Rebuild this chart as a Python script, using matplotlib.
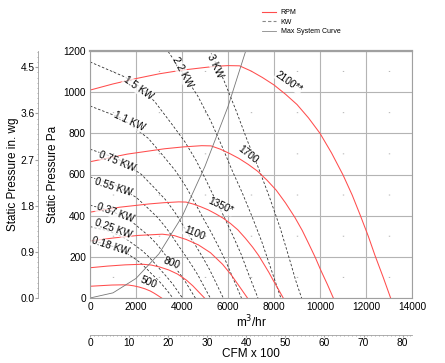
import matplotlib
matplotlib.use("Agg")
import matplotlib.pyplot as plt
from matplotlib.ticker import MultipleLocator
from matplotlib.lines import Line2D

plt.rcParams['font.family'] = ['Liberation Sans', 'DejaVu Sans']

# fan curves (m3/hr, Pa) per rpm
rpm_labels = ['500', '800', '1100', '1350*', '1700', '2100**']
rpm_q = [
    [0, 476, 952, 1429, 1667, 1905, 2143, 2381, 2619, 2795, 2950, 3112],
    [0, 762, 1524, 2286, 2667, 3048, 3429, 3810, 4190, 4472, 4720, 4979],
    [0, 1048, 2095, 3143, 3667, 4190, 4714, 5238, 5762, 6150, 6490, 6846],
    [0, 1286, 2571, 3214, 3857, 4179, 4500, 4821, 5143, 5464, 5786, 6107, 6429,
     6750, 7071, 7329, 7547, 7779, 7965, 8196, 8402],
    [0, 1619, 3238, 4048, 4857, 5262, 5667, 6071, 6476, 6881, 7286, 7690, 8095,
     8500, 8905, 9229, 9504, 9795, 10030, 10321, 10580],
    [0, 1000, 2000, 3000, 4000, 5000, 5500, 6000, 6500, 7000, 7500, 8000, 8500,
     9000, 9500, 10000, 10500, 11000, 11400, 11740, 12100, 12390, 12750, 13070],
]
rpm_p = [
    [57, 60, 63, 64, 63, 59, 53, 45, 34, 23, 12, 0],
    [147, 155, 161, 164, 160, 150, 136, 116, 87, 59, 30, 0],
    [277, 292, 304, 310, 303, 284, 258, 220, 164, 111, 57, 0],
    [417, 441, 457, 463, 467, 466, 456, 443, 428, 409, 388, 362, 331,
     291, 247, 207, 167, 124, 86, 41, 0],
    [662, 699, 725, 734, 740, 739, 723, 702, 678, 649, 616, 573, 524,
     462, 392, 328, 265, 197, 136, 66, 0],
    [1010, 1040, 1066, 1089, 1107, 1120, 1126, 1129, 1128, 1103, 1071, 1035, 990,
     940, 875, 800, 705, 598, 500, 405, 300, 207, 100, 0],
]
rpm_label_pos = [(2565, 78), (3565, 170), (4522, 316), (5696, 447), (6870, 699), (8652, 1049)]
rpm_label_rot = [-22, -20, -22, -25, -38, -35]

# constant power lines
kw_labels = ['0.18 KW', '0.25 KW', '0.37 KW', '0.55 KW', '0.75 KW', '1.1 KW', '1.5 KW', '2.2 KW', '3 KW']
kw_q = [
    [0, 747, 1385, 1731, 2033, 2274, 2490, 2687, 2869, 3058, 3237, 3418, 3604],
    [0, 834, 1545, 1932, 2268, 2539, 2778, 2998, 3201, 3411, 3615, 3814, 4020],
    [0, 950, 1761, 2201, 2585, 2893, 3166, 3418, 3650, 3887, 4120, 4343, 4580],
    [0, 1084, 2009, 2513, 2949, 3302, 3613, 3900, 4164, 4436, 4700, 4957, 5228],
    [0, 1202, 2228, 2785, 3271, 3662, 4007, 4325, 4618, 4920, 5213, 5498, 5795],
    [0, 1367, 2532, 3165, 3716, 4160, 4552, 4914, 5249, 5589, 5922, 6246, 6585],
    [0, 1515, 1978, 2808, 3509, 4119, 4614, 5048, 5448, 5819, 6197, 6566, 6926, 7302],
    [3190, 3988, 4682, 5242, 5735, 6190, 6612, 7041, 7461, 7868, 8297],
    [4422, 5192, 5812, 6360, 6864, 7331, 7809, 8273, 8726, 8941, 9200],
]
kw_p = [
    [279, 261, 232, 207, 185, 162, 139, 116, 97, 75, 52, 27, 0],
    [347, 325, 289, 258, 230, 202, 173, 145, 120, 93, 65, 33, 0],
    [451, 422, 376, 335, 299, 263, 225, 188, 156, 121, 84, 43, 0],
    [588, 550, 489, 437, 390, 342, 293, 245, 203, 157, 110, 56, 0],
    [723, 677, 601, 537, 479, 421, 360, 301, 250, 194, 135, 69, 0],
    [933, 874, 776, 693, 618, 543, 465, 389, 323, 250, 174, 89, 0],
    [1147, 1074, 1043, 955, 852, 760, 668, 572, 478, 397, 307, 214, 107, 0],
    [1232, 1100, 982, 862, 738, 617, 513, 397, 276, 142, 0],
    [1353, 1207, 1060, 908, 758, 630, 488, 339, 169, 86, 0],
]
kw_label_pos = [(870, 252), (1000, 335), (1087, 413), (1000, 539), (1174, 665),
                (1696, 859), (2087, 1019), (4000, 1097), (5435, 1126)]
kw_label_rot = [-18, -20, -20, -18, -22, -25, -35, -62, -65]

sys_q = [0, 1000, 2000, 3000, 4000, 5000, 6000, 6770, 7000]
sys_p = [0, 25, 95, 215, 395, 640, 930, 1200, 1290]

W, H = 445, 363
fig = plt.figure(figsize=(W / 100, H / 100), dpi=100)
ax = fig.add_axes([90 / W, 1 - 298 / H, 322 / W, 247 / H])

red = '#ff4d4d'
lab_box = dict(facecolor='white', edgecolor='none', alpha=0.75, pad=0.3)

for q, p in zip(kw_q, kw_p):
    ax.plot(q, p, color='#333333', lw=0.6, dashes=(3, 2.2))
for q, p in zip(rpm_q, rpm_p):
    ax.plot(q, p, color=red, lw=0.75)
ax.plot(sys_q, sys_p, color='#777777', lw=0.6)

for txt, (x, y), r in zip(kw_labels + rpm_labels, kw_label_pos + rpm_label_pos,
                          kw_label_rot + rpm_label_rot):
    ax.text(x, y, txt, rotation=r, fontsize=7.3, ha='center', va='center',
            rotation_mode='anchor', bbox=lab_box, zorder=5)

ax.set_xlim(0, 14000)
ax.set_ylim(0, 1200)
ax.xaxis.set_major_locator(MultipleLocator(2000))
ax.xaxis.set_minor_locator(MultipleLocator(1000))
ax.yaxis.set_major_locator(MultipleLocator(200))
ax.grid(True, which='major', color='#b4b4b4', lw=0.8)
# faint dots in the middle of each grid cell
ax.grid(True, which='minor', axis='x', color='#b4b4b4', lw=1,
        linestyle=(14.83, (0.7, 28.96)))
ax.set_axisbelow(True)
ax.tick_params(labelsize=7.3, length=0, pad=3)
ax.tick_params(which='minor', length=0)
for s in ax.spines.values():
    s.set_color('#a0a0a0')
    s.set_linewidth(0.8)
ax.spines['top'].set_linewidth(1.6)
ax.set_xlabel('m$^3$/hr', fontsize=8.5, labelpad=1)
ax.set_ylabel('Static Pressure Pa', fontsize=8.5, labelpad=3)

# legend
handles = [Line2D([], [], color=red, lw=0.8),
           Line2D([], [], color='#888888', lw=0.8, dashes=(3, 2)),
           Line2D([], [], color='#888888', lw=0.6)]
fig.legend(handles, ['RPM', 'KW', 'Max System Curve'], loc='upper left',
           bbox_to_anchor=(259 / W, 1 - 6 / H), frameon=False, fontsize=5,
           handlelength=2.0, handletextpad=0.6, labelspacing=0.35, borderpad=0)

# secondary pressure axis (in. wg)
ax2 = fig.add_axes([38 / W, 1 - 298 / H, 0.0001, 247 / H])
ax2.set_ylim(0, 1200 / 249.09)
ax2.set_yticks([0, 0.9, 1.8, 2.7, 3.6, 4.5])
ax2.set_yticklabels(['0.0', '0.9', '1.8', '2.7', '3.6', '4.5'])
ax2.yaxis.set_minor_locator(MultipleLocator(0.1))
ax2.set_xticks([])
ax2.patch.set_visible(False)
for k in ['top', 'right', 'bottom']:
    ax2.spines[k].set_visible(False)
ax2.spines['left'].set_color('#a0a0a0')
ax2.spines['left'].set_linewidth(0.6)
ax2.tick_params(axis='y', which='major', labelsize=7.3, length=2, color='#a0a0a0', pad=0.5)
ax2.tick_params(axis='y', which='minor', length=1, color='#a0a0a0')
ax2.set_ylabel('Static Pressure in. wg', fontsize=8.5, labelpad=1)

# secondary flow axis (CFM x 100)
ax3 = fig.add_axes([90 / W, 1 - 335 / H, 322 / W, 0.0001])
ax3.set_xlim(0, 14000 * 0.5886 / 100)
ax3.xaxis.set_major_locator(MultipleLocator(10))
ax3.xaxis.set_minor_locator(MultipleLocator(1))
ax3.set_yticks([])
ax3.patch.set_visible(False)
for k in ['top', 'right', 'left']:
    ax3.spines[k].set_visible(False)
ax3.spines['bottom'].set_color('#a0a0a0')
ax3.spines['bottom'].set_linewidth(0.6)
ax3.tick_params(axis='x', which='major', labelsize=7.3, length=1.5, color='#a0a0a0', pad=0.5)
ax3.tick_params(axis='x', which='minor', length=1, color='#a0a0a0')
ax3.set_xlabel('CFM x 100', fontsize=8.5, labelpad=0)

fig.savefig('out.png', dpi=100)
